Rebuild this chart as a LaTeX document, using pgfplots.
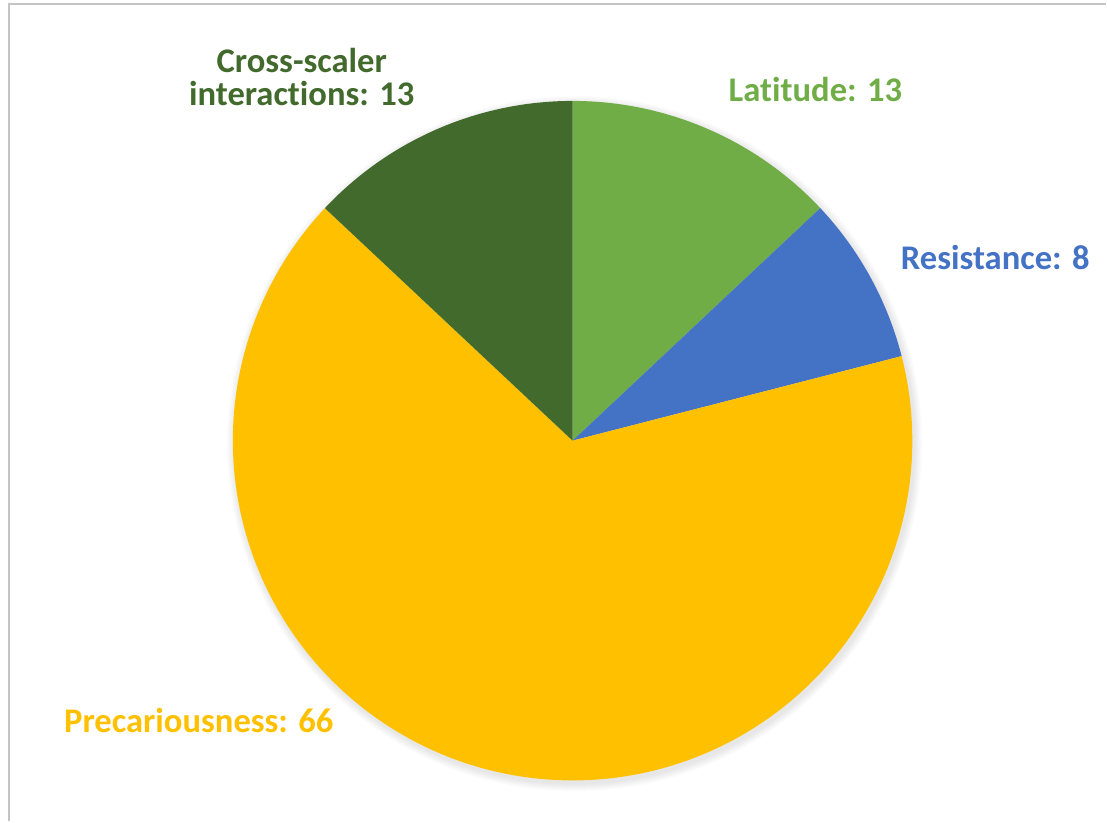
\documentclass[border=0pt]{standalone}
\usepackage{pgfplots}
\pgfplotsset{compat=1.18}
\usepackage{fontspec}
\setmainfont[Ligatures=NoCommon]{Carlito}
\definecolor{latc}{HTML}{70AD47}
\definecolor{resc}{HTML}{4472C4}
\definecolor{prec}{HTML}{FFC000}
\definecolor{croc}{HTML}{436A2D}
\definecolor{framec}{HTML}{C4C4C4}
% data values
\def\vLat{13}
\def\vRes{8}
\def\vPre{66}
\def\vCro{13}
\pgfmathsetmacro{\tot}{\vLat+\vRes+\vPre+\vCro}
\pgfmathsetmacro{\aA}{90}
\pgfmathsetmacro{\aB}{\aA-\vLat/\tot*360}
\pgfmathsetmacro{\aC}{\aB-\vRes/\tot*360}
\pgfmathsetmacro{\aD}{\aC-\vPre/\tot*360}
\pgfmathsetmacro{\aE}{\aD-\vCro/\tot*360}
\def\cx{573}
\def\cy{381}
\def\rr{340}
\tikzset{lbl/.style={font=\fontsize{17.3}{20}\selectfont\bfseries, inner sep=0pt, anchor=base}}
\begin{document}
\begin{tikzpicture}
\begin{axis}[
  width=553.5pt, height=411pt, scale only axis,
  xmin=0, xmax=1107, ymin=0, ymax=822,
  hide axis, clip=false,
]
\addplot[draw=none, forget plot] coordinates {(0,0) (1107,822)};
% frame (top and left)
\draw[framec, line width=0.8pt] (axis cs:9,0) -- (axis cs:9,818) -- (axis cs:1107,818);
% soft shadow
\fill[black, opacity=0.012] (axis cs:575,378) circle[radius=170.5pt];
\fill[black, opacity=0.012] (axis cs:575,378) circle[radius=171pt];
\fill[black, opacity=0.012] (axis cs:575,378) circle[radius=171.5pt];
\fill[black, opacity=0.012] (axis cs:575,378) circle[radius=172pt];
\fill[black, opacity=0.012] (axis cs:575,378) circle[radius=172.5pt];
\fill[black, opacity=0.012] (axis cs:575,378) circle[radius=173pt];
\fill[black, opacity=0.012] (axis cs:575,378) circle[radius=173.5pt];
\fill[black, opacity=0.012] (axis cs:575,378) circle[radius=174pt];
% slices
\addplot[fill=latc, draw=none, domain=\aB:\aA, samples=80, variable=\t]
  ({\cx+\rr*cos(\t)}, {\cy+\rr*sin(\t)}) -- (axis cs:\cx,\cy) -- cycle;
\addplot[fill=resc, draw=none, domain=\aC:\aB, samples=60, variable=\t]
  ({\cx+\rr*cos(\t)}, {\cy+\rr*sin(\t)}) -- (axis cs:\cx,\cy) -- cycle;
\addplot[fill=prec, draw=none, domain=\aD:\aC, samples=240, variable=\t]
  ({\cx+\rr*cos(\t)}, {\cy+\rr*sin(\t)}) -- (axis cs:\cx,\cy) -- cycle;
\addplot[fill=croc, draw=none, domain=\aE:\aD, samples=80, variable=\t]
  ({\cx+\rr*cos(\t)}, {\cy+\rr*sin(\t)}) -- (axis cs:\cx,\cy) -- cycle;
% labels
\node[lbl, text=latc] at (axis cs:816,720) {Latitude: 13};
\node[lbl, text=resc] at (axis cs:996,552) {Resistance: 8};
\node[lbl, text=prec] at (axis cs:199,89) {Precariousness: 66};
\node[lbl, text=croc] at (axis cs:302,749) {Cross-scaler};
\node[lbl, text=croc] at (axis cs:302,716) {interactions: 13};
\end{axis}
\end{tikzpicture}
\end{document}
